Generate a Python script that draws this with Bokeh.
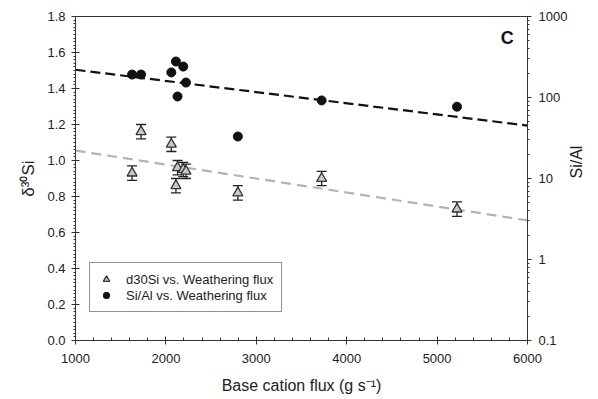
import math
from bokeh.plotting import figure
from bokeh.models import (Range1d, LogScale, LogAxis, SingleIntervalTicker, NumeralTickFormatter,
                          LogTicker, ColumnDataSource, Whisker, TeeHead, Legend, LegendItem, Label,
                          CustomJSTickFormatter)
from bokeh.embed import file_html
from bokeh.resources import INLINE

# data
flux = [1626, 1725, 2060, 2111, 2129, 2192, 2222, 2796, 3723, 5220]
d30si = [0.93, 1.16, 1.09, 0.86, 0.96, 0.95, 0.94, 0.82, 0.90, 0.73]
d30si_err = [0.04, 0.04, 0.04, 0.04, 0.04, 0.04, 0.04, 0.04, 0.04, 0.04]
sial = [192, 192, 204, 278, 103, 241, 153, 33, 92, 77]
trend_x = [1000, 6000]
trend_d30si = [1.055, 0.667]
trend_sial = [220, 45]

FONT = "Liberation Sans"

p = figure(width=598, height=399, output_backend="svg", toolbar_location=None,
           x_range=Range1d(1000, 6000), y_range=Range1d(0, 1.8),
           min_border_left=75, min_border_right=71, min_border_top=16, min_border_bottom=59)
p.extra_y_ranges = {"log": Range1d(0.1, 1000)}
p.extra_y_scales = {"log": LogScale()}
p.grid.visible = False
p.outline_line_color = "#333333"
p.outline_line_width = 1
p.background_fill_color = "white"
p.border_fill_color = "white"

for ax in [p.xaxis[0], p.yaxis[0]]:
    ax.axis_line_color = "#333333"
    ax.major_tick_line_color = "#333333"
    ax.minor_tick_line_color = "#333333"
    ax.major_label_text_font = FONT
    ax.major_label_text_font_size = "13px"
    ax.major_label_text_color = "#222222"
    ax.axis_label_text_font = FONT
    ax.axis_label_text_font_size = "16px"
    ax.axis_label_text_font_style = "normal"
    ax.axis_label_text_color = "#222222"
    ax.major_tick_in = 4
    ax.major_tick_out = 4
    ax.minor_tick_in = 0
    ax.minor_tick_out = 3

p.xaxis.ticker = SingleIntervalTicker(interval=1000, num_minor_ticks=5)
p.xaxis.axis_label = "Base cation flux (g s\u207b\u00b9)"
p.xaxis.major_label_standoff = 9
p.xaxis.axis_label_standoff = 11
p.xaxis.minor_tick_in = 3
p.xaxis.minor_tick_out = 0

p.yaxis.ticker = SingleIntervalTicker(interval=0.2, num_minor_ticks=10)
p.yaxis.axis_label = "\u03b4\u00b3\u2070Si"
p.yaxis.axis_label_text_font_size = "17px"
p.yaxis.major_label_standoff = 6
p.yaxis.axis_label_standoff = 6
p.yaxis.minor_tick_out = 2
p.yaxis.formatter = NumeralTickFormatter(format="0.0")

rax = LogAxis(y_range_name="log", ticker=LogTicker(num_minor_ticks=10),
              axis_label="Si/Al")
rax.axis_line_color = "#333333"
rax.major_tick_line_color = "#333333"
rax.minor_tick_line_color = "#333333"
rax.major_label_text_font = FONT
rax.major_label_text_font_size = "13px"
rax.major_label_text_color = "#222222"
rax.axis_label_text_font = FONT
rax.axis_label_text_font_size = "16px"
rax.axis_label_text_font_style = "normal"
rax.axis_label_text_color = "#222222"
rax.axis_label_orientation = math.pi / 2
rax.major_tick_in = 0
rax.major_tick_out = 4
rax.minor_tick_in = 0
rax.minor_tick_out = 2
rax.major_label_standoff = 7
rax.axis_label_standoff = 6
rax.formatter = CustomJSTickFormatter(code="return tick.toString();")
p.add_layout(rax, "right")

# trend lines
p.line(trend_x, trend_d30si, line_color="#b4b4b4", line_width=2.2, line_dash="10 6")
p.line(trend_x, trend_sial, y_range_name="log", line_color="#111111", line_width=2.2, line_dash="10 5")

# error bars
src = ColumnDataSource(dict(x=flux, y=d30si,
                            lo=[v - e for v, e in zip(d30si, d30si_err)],
                            hi=[v + e for v, e in zip(d30si, d30si_err)]))
w = Whisker(source=src, base="x", lower="lo", upper="hi", line_color="#222222", line_width=1.3,
            upper_head=TeeHead(size=10, line_color="#222222", line_width=1.3),
            lower_head=TeeHead(size=10, line_color="#222222", line_width=1.3))
p.add_layout(w)

tri = p.scatter("x", "y", source=src, marker="triangle", size=10,
                fill_color="#c8c8c8", line_color="#333333", line_width=1.3)
circ = p.scatter(flux, sial, y_range_name="log", marker="circle", size=9,
                 fill_color="#111111", line_color="#111111")

legend = Legend(items=[LegendItem(label="d30Si vs. Weathering flux", renderers=[tri]),
                       LegendItem(label="Si/Al vs. Weathering flux", renderers=[circ])],
                location=(14, 28), orientation="vertical",
                label_text_font=FONT, label_text_font_size="13px", label_text_color="#222222",
                label_height=14, glyph_height=16, glyph_width=16, label_standoff=12,
                spacing=0, padding=8, margin=0,
                border_line_color="#222222", border_line_width=1,
                background_fill_color="white", background_fill_alpha=1)
p.add_layout(legend, "center")

p.add_layout(Label(x=5775, y=1.678, text="C", text_font=FONT, text_font_size="18px",
                   text_font_style="bold", text_align="center", text_baseline="middle",
                   text_color="#111111"))

open("out.html", "w").write(file_html(p, INLINE))
